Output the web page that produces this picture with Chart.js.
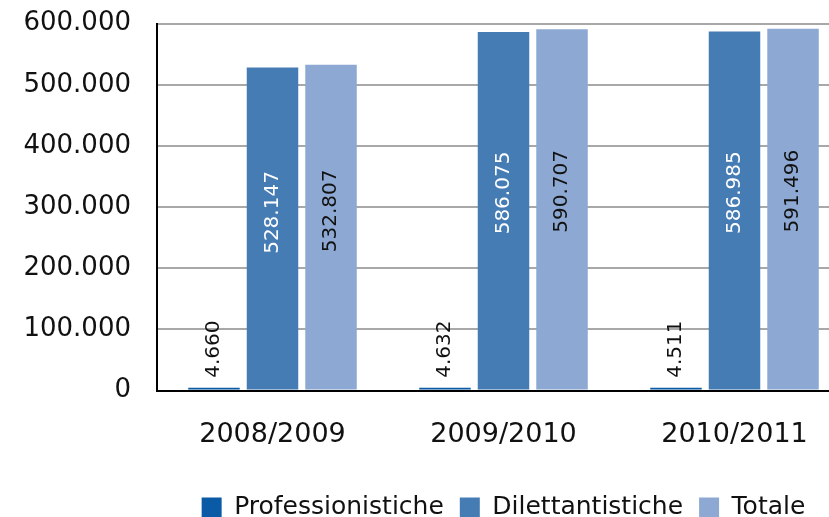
<!DOCTYPE html>
<html>
<head>
<meta charset="utf-8">
<script src="https://cdn.jsdelivr.net/npm/chart.js@4/dist/chart.umd.min.js"></script>
<style>
  html, body { margin: 0; padding: 0; background: #fff; overflow: hidden; }
  #wrap { width: 829px; height: 517px; overflow: hidden; }
  #myChart { display: block; margin-top: -18px; }
</style>
</head>
<body>
<div id="wrap"><canvas id="myChart" width="850" height="535"></canvas></div>
<script>
const stagioni = ["2008/2009", "2009/2010", "2010/2011"];
const professionistiche = [4660, 4632, 4511];
const dilettantistiche = [528147, 586075, 586985];
const totale = [532807, 590707, 591496];

const FONT = "'DejaVu Sans', sans-serif";

function formatIt(v) {
  return v.toString().replace(/\B(?=(\d{3})+(?!\d))/g, ".");
}

// etichette ruotate sulle barre
const valueLabels = {
  id: "valueLabels",
  afterDatasetsDraw(chart) {
    const ctx = chart.ctx;
    ctx.save();
    ctx.font = "20px " + FONT;
    chart.data.datasets.forEach((ds, i) => {
      const meta = chart.getDatasetMeta(i);
      meta.data.forEach((bar, j) => {
        const txt = formatIt(ds.data[j]);
        ctx.save();
        ctx.translate(bar.x, 0);
        ctx.rotate(-Math.PI / 2);
        ctx.textBaseline = "middle";
        if (i === 0) {
          ctx.fillStyle = "#111";
          ctx.textAlign = "left";
          ctx.fillText(txt, -(bar.y - 10), 0);
        } else {
          ctx.fillStyle = i === 1 ? "#fff" : "#111";
          ctx.textAlign = "center";
          const yc = bar.base - 0.55 * (bar.base - bar.y);
          ctx.fillText(txt, -yc, 0);
        }
        ctx.restore();
      });
    });
    ctx.restore();
  }
};

const ctx = document.getElementById("myChart");
new Chart(ctx, {
  type: "bar",
  data: {
    labels: stagioni,
    datasets: [
      {
        label: "Professionistiche",
        data: professionistiche,
        backgroundColor: "#0b5aa6",
      },
      {
        label: "Dilettantistiche",
        data: dilettantistiche,
        backgroundColor: "#467cb4",
      },
      {
        label: "Totale",
        data: totale,
        backgroundColor: "#8da9d3",
      },
    ],
  },
  options: {
    responsive: false,
    animation: false,
    devicePixelRatio: 1,
    layout: { padding: { top: -5, right: 0, left: 0, bottom: -13 } },
    datasets: {
      bar: { categoryPercentage: 0.76, barPercentage: 0.88 },
    },
    plugins: {
      legend: {
        position: "bottom",
        fullSize: false,
        labels: {
          font: { family: FONT, size: 25 },
          color: "#111",
          boxWidth: 20,
          boxHeight: 20,
          padding: 16,
        },
      },
      tooltip: { enabled: false },
    },
    scales: {
      x: {
        grid: { display: false, drawTicks: false },
        border: { color: "#000", width: 2 },
        ticks: {
          font: { family: FONT, size: 27 },
          color: "#111",
          padding: 28,
        },
      },
      y: {
        min: 0,
        max: 600000,
        afterFit(scale) { scale.width = 157; },
        grid: { color: "#a8a8a8", lineWidth: 2, drawTicks: false },
        border: { color: "#000", width: 2 },
        ticks: {
          stepSize: 100000,
          font: { family: FONT, size: 26 },
          color: "#111",
          padding: 26,
          callback: (v) => formatIt(v),
        },
      },
    },
  },
  plugins: [valueLabels],
});
</script>
</body>
</html>
